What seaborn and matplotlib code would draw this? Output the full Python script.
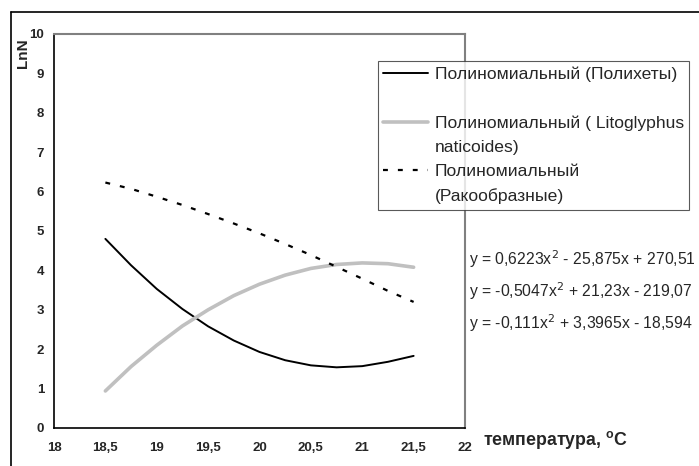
import matplotlib
matplotlib.use("Agg")
import matplotlib.pyplot as plt
import seaborn as sns
import pandas as pd
from matplotlib.lines import Line2D

sns.set_style("white")
plt.rcParams['font.family'] = ['Liberation Sans', 'DejaVu Sans']

# Data
temperature = [18.5, 18.75, 19.0, 19.25, 19.5, 19.75, 20.0, 20.25, 20.5, 20.75, 21.0, 21.25, 21.5]
polychaetes = [4.80, 4.13, 3.53, 3.02, 2.58, 2.22, 1.93, 1.72, 1.59, 1.54, 1.57, 1.68, 1.83]
litoglyphus = [0.94, 1.56, 2.10, 2.59, 3.00, 3.36, 3.65, 3.88, 4.05, 4.15, 4.19, 4.17, 4.08]
crustaceans = [6.23, 6.07, 5.87, 5.66, 5.43, 5.19, 4.94, 4.67, 4.39, 4.09, 3.79, 3.48, 3.20]

# legend text, line by line as wrapped in the reference (blank line after the first entry)
legend_lines = [["Полиномиальный (Полихеты)", " "],
                ["Полиномиальный ( Litoglyphus", "naticoides)"],
                ["Полиномиальный", "(Ракообразные)"]]
series_names = ["Полихеты", "Litoglyphus naticoides", "Ракообразные"]
x_ticks = [18, 18.5, 19, 19.5, 20, 20.5, 21, 21.5, 22]
x_tick_labels = ["18", "18,5", "19", "19,5", "20", "20,5", "21", "21,5", "22"]
y_ticks = [0, 1, 2, 3, 4, 5, 6, 7, 8, 9, 10]
equations = [r"y = 0,6223x$^2$ - 25,875x + 270,51",
             r"y = -0,5047x$^2$ + 21,23x - 219,07",
             r"y = -0,111x$^2$ + 3,3965x - 18,594"]

df = pd.DataFrame({
    "t": temperature * 3,
    "v": polychaetes + litoglyphus + crustaceans,
    "s": [series_names[0]] * len(temperature) + [series_names[1]] * len(temperature)
         + [series_names[2]] * len(temperature),
})

W, H = 699, 466
fig = plt.figure(figsize=(W / 100, H / 100), dpi=100)
ax = fig.add_axes([54 / W, 1 - 428 / H, (465 - 54) / W, (428 - 34) / H])

colors = {series_names[0]: "black", series_names[1]: "#c0c0c0", series_names[2]: "black"}
widths = {series_names[0]: 1.4, series_names[1]: 2.6, series_names[2]: 1.6}
styles = {series_names[0]: "-", series_names[1]: "-", series_names[2]: (0, (2.2, 4.5))}

for name in series_names:
    sub = df[df["s"] == name]
    sns.lineplot(data=sub, x="t", y="v", ax=ax, color=colors[name],
                 linewidth=widths[name], linestyle=styles[name], label=name,
                 estimator=None, sort=True)

ax.set_xlim(18, 22)
ax.set_ylim(0, 10)
ax.set_xticks(x_ticks)
ax.set_xticklabels(x_tick_labels, fontweight="bold", fontsize=9.5)
ax.set_yticks(y_ticks)
ax.set_yticklabels([str(v) for v in y_ticks], fontweight="bold", fontsize=9.5)
ax.tick_params(axis="both", direction="out", length=3, width=1, color="black")
ax.tick_params(axis="y", pad=4.2)
ax.tick_params(axis="x", pad=6.9)
ax.set_xlabel("")
ax.set_ylabel("")

for side in ["left", "bottom"]:
    ax.spines[side].set_color("black")
    ax.spines[side].set_linewidth(1.2)
for side in ["top", "right"]:
    ax.spines[side].set_color("#808080")
    ax.spines[side].set_linewidth(1.5)

# y label "LnN" near the top
fig.text(23 / W, 1 - 53 / H, "LnN", rotation=90, ha="center", va="center",
         fontsize=11, fontweight="bold")
# x label
fig.text(483 / W, 1 - 440 / H, "температура, $^{\\mathregular{o}}$C", ha="left", va="center",
         fontsize=12.8, fontweight="bold")

# equations
for i, eq in enumerate(equations):
    fig.text(469 / W, 1 - (259 + 32 * i) / H, eq, ha="left", va="center", fontsize=11.3)

# legend: one row per text line, the series line sits beside the first line
series_handles, _ = ax.get_legend_handles_labels()
handles, labels = [], []
for h, lines in zip(series_handles, legend_lines):
    for j, txt in enumerate(lines):
        handles.append(h if j == 0 else Line2D([], [], color="none", linewidth=0))
        labels.append(txt)
leg = ax.legend(handles, labels, loc="upper left",
                bbox_to_anchor=(378 / W, 1 - 61 / H),
                bbox_transform=fig.transFigure, frameon=True, fancybox=False,
                fontsize=12.6, handlelength=2.55, handletextpad=0.4, borderpad=0.3,
                labelspacing=0.52, borderaxespad=0)
leg.get_frame().set_edgecolor("#303030")
leg.get_frame().set_linewidth(0.8)

# outer frame of the embedded chart
fig.add_artist(Line2D([11 / W, 1], [1 - 11.5 / H, 1 - 11.5 / H], color="black", lw=1.2,
                      transform=fig.transFigure))
fig.add_artist(Line2D([11 / W, 11 / W], [0, 1 - 11.5 / H], color="black", lw=1.2,
                      transform=fig.transFigure))

fig.savefig("out.png", dpi=100)
